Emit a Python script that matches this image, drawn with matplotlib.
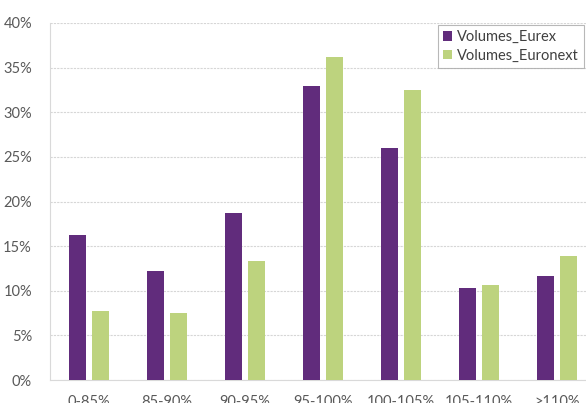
import matplotlib
matplotlib.use("Agg")
import matplotlib.pyplot as plt
import numpy as np
from matplotlib.ticker import PercentFormatter

categories = ["0-85%", "85-90%", "90-95%", "95-100%", "100-105%", "105-110%", ">110%"]
eurex = [16.3, 12.2, 18.7, 32.9, 26.0, 10.3, 11.7]
euronext = [7.7, 7.5, 13.3, 36.2, 32.5, 10.7, 13.9]

plt.rcParams["font.family"] = ["Lato", "DejaVu Sans"]

fig = plt.figure(figsize=(5.86, 4.03), dpi=100)
# plot area runs a little past the right edge of the figure
ax = fig.add_axes([50 / 586, 23 / 403, 546 / 586, 357 / 403])

x = np.arange(len(categories))
w = 0.22
off = 0.145
ax.bar(x - off, eurex, width=w, color="#612c7c", label="Volumes_Eurex", zorder=3)
ax.bar(x + off, euronext, width=w, color="#bdd37e", label="Volumes_Euronext", zorder=3)

ax.set_xlim(-0.5, len(categories) - 0.5)
ax.set_ylim(0, 40)
ax.set_yticks(np.arange(0, 41, 5))
ax.yaxis.set_major_formatter(PercentFormatter(decimals=0))
ax.set_xticks(x)
ax.set_xticklabels(categories)
ax.tick_params(axis="both", length=0, colors="#595959", labelsize=10.5)
ax.tick_params(axis="x", pad=11)
ax.tick_params(axis="y", pad=13)

ax.grid(axis="y", color="#d6d6d6", linestyle=(0, (2, 1)), linewidth=0.8, zorder=0)
for s in ["top", "right"]:
    ax.spines[s].set_visible(False)
ax.spines["left"].set_color("#d9d9d9")
ax.spines["bottom"].set_color("#d9d9d9")

leg = ax.legend(loc="upper left", bbox_to_anchor=(388 / 546, 1 - 2 / 357), fontsize=10.5,
                frameon=True, fancybox=False, handlelength=0.6, handleheight=0.6,
                handletextpad=0.35, borderpad=0.35, borderaxespad=0, labelspacing=0.3,
                labelcolor="#404040")
leg.get_frame().set_edgecolor("#a6a6a6")
leg.get_frame().set_linewidth(0.8)

fig.savefig("out.png", dpi=100)
